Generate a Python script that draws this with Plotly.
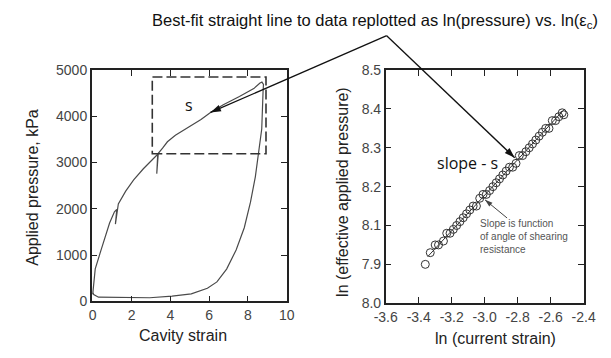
import math
import plotly.graph_objects as go

# Left panel: cavity expansion curve (strain vs applied pressure, kPa)
strain = [0.0, 0.05, 0.13, 0.38, 0.63, 0.87, 1.12, 1.24, 1.17, 1.27, 1.32, 1.70, 2.11, 2.61, 3.10,
          3.35, 3.30, 3.38, 3.60, 3.85, 4.26, 4.92, 5.58, 6.07, 6.73, 7.56, 8.30, 8.62, 8.72, 8.80,
          8.78, 8.71, 8.55, 8.38, 8.13, 7.81, 7.39, 6.90, 6.40, 5.91, 5.08, 4.09, 2.94, 1.29, 0.30, 0.05, 0.0]
pressure = [150, 420, 700, 1040, 1384, 1694, 1936, 1985, 1670, 2010, 2107, 2382, 2624, 2866, 3072,
            3180, 2760, 3200, 3312, 3450, 3589, 3760, 3932, 4085, 4250, 4430, 4600, 4720, 4740, 4690,
            4552, 3725, 3176, 2692, 2142, 1591, 1109, 696, 419, 283, 159, 110, 76, 76, 89, 145, 200]

# Right panel: ln(current strain) vs ln(effective applied pressure)
ln_strain = [-3.36, -3.33, -3.30, -3.28, -3.25, -3.23, -3.21, -3.19, -3.17, -3.15, -3.13, -3.11,
             -3.09, -3.07, -3.05, -3.03, -3.01, -2.99, -2.97, -2.95, -2.93, -2.91, -2.89, -2.87,
             -2.85, -2.83, -2.81, -2.79, -2.77, -2.75, -2.73, -2.71, -2.69, -2.67, -2.65, -2.63,
             -2.61, -2.59, -2.57, -2.55, -2.53, -2.52]
ln_press = [8.00, 8.03, 8.05, 8.05, 8.06, 8.08, 8.08, 8.09, 8.10, 8.11, 8.12, 8.13,
            8.14, 8.15, 8.15, 8.17, 8.18, 8.18, 8.19, 8.20, 8.21, 8.22, 8.23, 8.24,
            8.25, 8.25, 8.26, 8.28, 8.28, 8.29, 8.30, 8.31, 8.32, 8.33, 8.34, 8.35,
            8.35, 8.37, 8.37, 8.38, 8.39, 8.385]
fit_x = [-3.345, -2.515]
fit_y = [8.02, 8.40]

left_xticks = [0, 2, 4, 6, 8, 10]
left_yticks = [0, 1000, 2000, 3000, 4000, 5000]
right_xticks = [-3.6, -3.4, -3.2, -3.0, -2.8, -2.6, -2.4]
right_xtext = ["-3.6", "-3.4", "-3.2", "-3.0", "-2.8", "-2.6", "-2.4"]
right_yticks = [7.9, 8.0, 8.1, 8.2, 8.3, 8.4, 8.5]
right_ytext = ["8.0", "7.9", "8.1", "8.2", "8.3", "8.4", "8.5"]

W, H = 611, 358
def px(x):
    return x / W
def py(y):
    return 1 - y / H

# plot-area geometry (pixels) and axis ranges
L_X0, L_X1, L_Y0, L_Y1 = 83, 286, 307, 65
R_X0, R_X1, R_Y0, R_Y1 = 389, 595, 309, 65
L_XR, L_YR = [-0.05, 10], [0, 5000]
R_XR, R_YR = [-3.6, -2.4], [7.9, 8.5]

def to_px(v, r, p0, p1):
    return p0 + (v - r[0]) / (r[1] - r[0]) * (p1 - p0)

fig = go.Figure()
fig.add_trace(go.Scatter(x=strain, y=pressure, mode="lines",
                         line=dict(color="#4a4a4a", width=1.2), xaxis="x", yaxis="y"))
fig.add_trace(go.Scatter(x=fit_x, y=fit_y, mode="lines",
                         line=dict(color="#333333", width=1), xaxis="x2", yaxis="y2"))
fig.add_trace(go.Scatter(x=ln_strain, y=ln_press, mode="markers",
                         marker=dict(symbol="circle-open", size=8, color="#333333", line=dict(width=1)),
                         xaxis="x2", yaxis="y2"))

tickfont = dict(family="Liberation Sans, Arial, sans-serif", size=14, color="#444444")
common = dict(showline=True, linecolor="#222222", linewidth=1.5, mirror="ticks", ticks="inside",
              ticklen=6, tickcolor="#222222", tickwidth=1.2, showgrid=False, zeroline=False,
              tickfont=tickfont, fixedrange=True)

fig.update_layout(
    width=W, height=H, margin=dict(l=0, r=0, t=0, b=0),
    paper_bgcolor="white", plot_bgcolor="white", showlegend=False,
    xaxis=dict(domain=[px(L_X0), px(L_X1)], range=L_XR, tickvals=left_xticks, anchor="y", **common),
    yaxis=dict(domain=[py(L_Y0), py(L_Y1)], range=L_YR, tickvals=left_yticks, anchor="x", **common),
    xaxis2=dict(domain=[px(R_X0), px(R_X1)], range=R_XR, tickvals=right_xticks, ticktext=right_xtext,
                anchor="y2", **common),
    yaxis2=dict(domain=[py(R_Y0), py(R_Y1)], range=R_YR, tickvals=right_yticks, ticktext=right_ytext,
                anchor="x2", **common),
)

# dashed box on the left panel
fig.add_shape(type="rect", xref="x", yref="y", x0=3.07, x1=8.93, y0=3190, y1=4850,
              line=dict(color="#333333", width=1.6, dash="10px,4px"))

# arrows: line shapes (paper coords) + arrow-head markers at the tips
APEX = (390, 29)
arrows = [
    # (tip data x, tip data y, axis suffix, tail pixel x, tail pixel y, colour, width, head size)
    (6.07, 4085, "", APEX[0], APEX[1], "#111111", 1.3, 11),
    (-2.818, 8.2745, "2", APEX[0], APEX[1], "#111111", 1.3, 11),
    (-2.998, 8.166, "2", None, None, "#444444", 1.0, 8),
]
for tx, ty, ax_s, tlx, tly, col, wd, hs in arrows:
    if ax_s == "":
        tip_px = (to_px(tx, L_XR, L_X0, L_X1), to_px(ty, L_YR, L_Y0, L_Y1))
    else:
        tip_px = (to_px(tx, R_XR, R_X0, R_X1), to_px(ty, R_YR, R_Y0, R_Y1))
    if tlx is None:
        tlx, tly = tip_px[0] + 23, tip_px[1] + 19
    fig.add_shape(type="line", xref="paper", yref="paper",
                  x0=px(tlx), y0=py(tly), x1=px(tip_px[0]), y1=py(tip_px[1]),
                  line=dict(color=col, width=wd))
    ang = math.degrees(math.atan2(tip_px[0] - tlx, -(tip_px[1] - tly)))
    fig.add_trace(go.Scatter(x=[tx], y=[ty], mode="markers", cliponaxis=False,
                             xaxis="x" + ax_s, yaxis="y" + ax_s,
                             marker=dict(symbol="arrow", size=hs, angle=ang, color=col,
                                         line=dict(width=0))))

titlefont = dict(family="Liberation Sans, Arial, sans-serif", size=16, color="#222222")
ann = []
ann.append(dict(text="Cavity strain", xref="paper", yref="paper", x=px(178), y=py(343),
                showarrow=False, font=titlefont, xanchor="center", yanchor="middle"))
ann.append(dict(text="ln (current strain)", xref="paper", yref="paper", x=px(503), y=py(346),
                showarrow=False, font=titlefont, xanchor="center", yanchor="middle"))
ann.append(dict(text="Applied pressure, kPa", xref="paper", yref="paper", x=px(21), y=py(188),
                showarrow=False, font=titlefont, textangle=-90, xanchor="center", yanchor="middle"))
ann.append(dict(text="ln (effective applied pressure)", xref="paper", yref="paper", x=px(344), y=py(192),
                showarrow=False, font=titlefont, textangle=-90, xanchor="center", yanchor="middle"))
ann.append(dict(text="Best-fit straight line to data replotted as ln(pressure) vs. ln(ε<sub>c</sub>)",
                xref="paper", yref="paper", x=px(378), y=py(14), showarrow=False,
                font=dict(family="Liberation Sans, Arial, sans-serif", size=16.5, color="#111111"),
                xanchor="center", yanchor="middle"))
ann.append(dict(text="s", xref="x", yref="y", x=4.95, y=4242, showarrow=False,
                font=dict(family="Open Sans, sans-serif", size=16, color="#111111")))
ann.append(dict(text="slope - s", xref="x2", yref="y2", x=-3.105, y=8.26, showarrow=False,
                font=dict(family="Open Sans, sans-serif", size=16, color="#111111")))
ann.append(dict(text="Slope is function<br>of angle of shearing<br>resistance", xref="paper", yref="paper",
                x=px(485), y=py(218), showarrow=False, align="left", xanchor="left", yanchor="top",
                font=dict(family="Liberation Sans, Arial, sans-serif", size=10, color="#555555")))
fig.update_layout(annotations=ann)

fig.write_html("out.html")
